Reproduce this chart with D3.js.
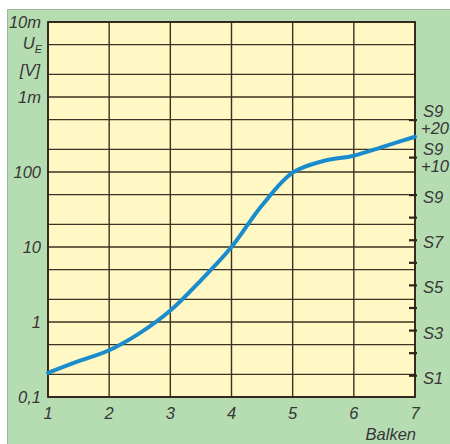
<!DOCTYPE html>
<html>
<head>
<meta charset="utf-8">
<script src="https://cdn.jsdelivr.net/npm/d3@7"></script>
<style>
body{margin:0;background:#fff;}
text{font-family:"Liberation Sans Narrow","Arial Narrow","Liberation Sans",Arial,sans-serif;font-style:italic;fill:#363636;}
</style>
</head>
<body>
<script>
var width=450;
var height=444;
var padding={top:22,right:35,bottom:47,left:48};

// Kurve: Eingangsspannung (uV) ueber Balkenanzahl
var balken=[1,1.5,2,2.5,3,3.5,4,4.5,5,5.5,6,6.5,7];
var spannung=[0.21,0.30,0.42,0.71,1.42,3.6,10,36,98,140,165,220,295];

var xTicks=[1,2,3,4,5,6,7];
var yTicks=[0.1,1,10,100,1000,10000];
var yTickLabels=["0,1","1","10","100","1m","10m"];
var yGrid=[0.1,0.2,0.5,1,2,5,10,20,50,100,200,500,1000,2000,5000,10000];

// S-Meter Skala rechts
var sWerte=[0.195,0.39,0.78,1.56,3.125,6.25,12.5,25,50,158,500];
var sLabels=["S1","","S3","","S5","","S7","","S9","S9|+10","S9|+20"];

var svg=d3.select("body").append("svg").attr("width",width).attr("height",height);

svg.append("rect")
    .attr("x",7).attr("y",9)
    .attr("width",width-7).attr("height",height-9)
    .attr("fill","#b6dcb2");
svg.append("path")
    .attr("d","M7.5,"+height+"V9.5H"+width)
    .attr("fill","none").attr("stroke","#9cb89c").attr("stroke-width",1);

var x=d3.scaleLinear().domain([1,7]).range([padding.left,width-padding.right]);
var y=d3.scaleLog().domain([0.1,10000]).range([height-padding.bottom,padding.top]);

svg.append("rect")
    .attr("x",x(1)).attr("y",y(10000))
    .attr("width",x(7)-x(1)).attr("height",y(0.1)-y(10000))
    .attr("fill","#fff7c4");

// Gitter
svg.selectAll(".hgrid").data(yGrid).enter().append("line")
    .attr("class","hgrid")
    .attr("x1",x(1)).attr("x2",x(7))
    .attr("y1",function(d){return y(d);})
    .attr("y2",function(d){return y(d);})
    .attr("stroke","#3a3222").attr("stroke-width",1.4);
svg.selectAll(".vgrid").data(xTicks).enter().append("line")
    .attr("class","vgrid")
    .attr("x1",function(d){return x(d);})
    .attr("x2",function(d){return x(d);})
    .attr("y1",y(0.1)).attr("y2",y(10000))
    .attr("stroke","#3a3222").attr("stroke-width",1.4);

svg.append("rect")
    .attr("x",x(1)).attr("y",y(10000))
    .attr("width",x(7)-x(1)).attr("height",y(0.1)-y(10000))
    .attr("fill","none").attr("stroke","#2e2618").attr("stroke-width",1.8);

// rechte Achse mit S-Stufen
var sAxis=d3.axisRight(y).tickValues(sWerte).tickSize(0).tickFormat("");
var sg=svg.append("g").attr("transform","translate("+x(7)+",0)").call(sAxis);
sg.select(".domain").remove();
sg.selectAll(".tick").append("line")
    .attr("x1",-6).attr("x2",2)
    .attr("stroke","#2e2618").attr("stroke-width",2.2);

sg.selectAll(".tick").each(function(d,i){
    var lab=sLabels[i];
    if(!lab)return;
    var t=d3.select(this);
    var parts=lab.split("|");
    if(parts.length==1){
        t.append("text").attr("x",8).attr("y",2).attr("dy","0.36em")
            .attr("font-size","16.5px").text(parts[0]);
    }else{
        t.append("text").attr("x",8).attr("y",-9).attr("dy","0.36em")
            .attr("font-size","16.5px").text(parts[0]);
        t.append("text").attr("x",6).attr("y",8).attr("dy","0.36em")
            .attr("font-size","16.5px").text(parts[1]);
    }
});

// linke Achse
svg.selectAll(".ylab").data(yTicks).enter().append("text")
    .attr("class","ylab")
    .attr("x",41)
    .attr("y",function(d){return y(d);})
    .attr("dy","0.36em")
    .attr("text-anchor","end")
    .attr("font-size","16.5px")
    .text(function(d,i){return yTickLabels[i];});

var ue=svg.append("text").attr("x",42).attr("y",49)
    .attr("text-anchor","end").attr("font-size","16.5px");
ue.append("tspan").text("U");
ue.append("tspan").attr("font-size","11px").attr("dy",4).text("E");
svg.append("text").attr("x",40).attr("y",76)
    .attr("text-anchor","end").attr("font-size","16.5px").text("[V]");

// untere Achse
svg.selectAll(".xlab").data(xTicks).enter().append("text")
    .attr("class","xlab")
    .attr("x",function(d){return x(d);})
    .attr("y",419)
    .attr("text-anchor","middle")
    .attr("font-size","16.5px")
    .text(function(d){return d;});
svg.append("text").attr("x",x(7)+1).attr("y",440)
    .attr("text-anchor","end").attr("font-size","16.5px").text("Balken");

// Kurve
var line=d3.line()
    .x(function(d,i){return x(balken[i]);})
    .y(function(d){return y(d);})
    .curve(d3.curveCatmullRom.alpha(0.5));
svg.append("path")
    .datum(spannung)
    .attr("d",line)
    .attr("fill","none")
    .attr("stroke","#1a8ccc")
    .attr("stroke-width",4)
    .attr("stroke-linecap","round");
</script>
</body>
</html>
